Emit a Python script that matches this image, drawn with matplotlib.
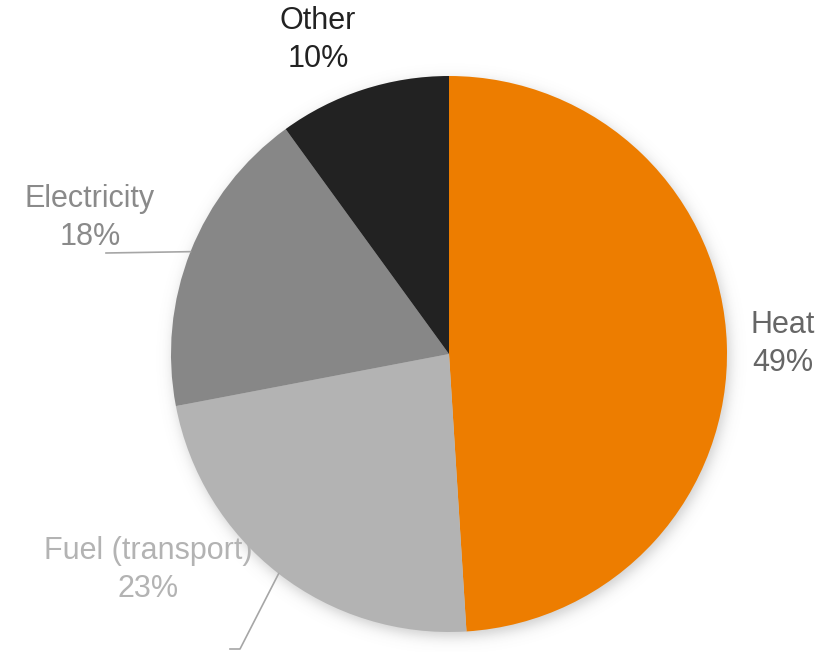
import numpy as np
import matplotlib
matplotlib.use("Agg")
import matplotlib.pyplot as plt

categories = ["Heat", "Fuel (transport)", "Electricity", "Other"]
shares = [49, 23, 18, 10]
colors = ["#ED7D00", "#B3B3B3", "#878787", "#222222"]
label_colors = ["#666666", "#B3B3B3", "#8A8A8A", "#222222"]

W, H = 828, 652
fig = plt.figure(figsize=(W / 100, H / 100), dpi=100)
ax = fig.add_axes([0, 0, 1, 1])

cx, cy, R = 449, H - 354, 278

# soft drop shadow under the pie
yy, xx = np.mgrid[0:H, 0:W]
d = np.hypot(xx - (cx + 2), (H - yy) - (cy - 4)) - R
alpha = 0.3 / (1 + np.exp(d / 4.0))
shadow = np.zeros((H, W, 4))
shadow[..., :3] = 0.35
shadow[..., 3] = alpha
ax.imshow(shadow, extent=(0, W, 0, H), origin="upper", zorder=0, interpolation="bilinear")

wedges, _ = ax.pie(shares, colors=colors, startangle=90, counterclock=False,
                   center=(cx, cy), radius=R, frame=True,
                   wedgeprops=dict(linewidth=0, zorder=1))
ax.set_xlim(0, W)
ax.set_ylim(0, H)
ax.set_aspect("equal")
ax.axis("off")

font = dict(family="Liberation Sans", fontsize=22, ha="center", va="center", linespacing=1.38)
label_pos = {"Heat": (783, 344), "Fuel (transport)": (148, 570),
             "Electricity": (90, 218), "Other": (318, 40)}
for name, val, col in zip(categories, shares, label_colors):
    x, y = label_pos[name]
    ax.text(x, H - y, f"{name}\n{val}%", color=col, zorder=3, **font)

def edge_point(w):
    mid = np.deg2rad((w.theta1 + w.theta2) / 2)
    return cx + R * np.cos(mid), cy + R * np.sin(mid)

# leader lines
ex, ey = edge_point(wedges[2])
ax.plot([ex, 106], [ey, H - 253], color="#A6A6A6", lw=1.2, zorder=2)
fx, fy = edge_point(wedges[1])
ax.plot([fx, 240, 230], [fy, H - 649, H - 649], color="#A6A6A6", lw=1.2, zorder=2)

fig.savefig("out.png", dpi=100, facecolor="white")
